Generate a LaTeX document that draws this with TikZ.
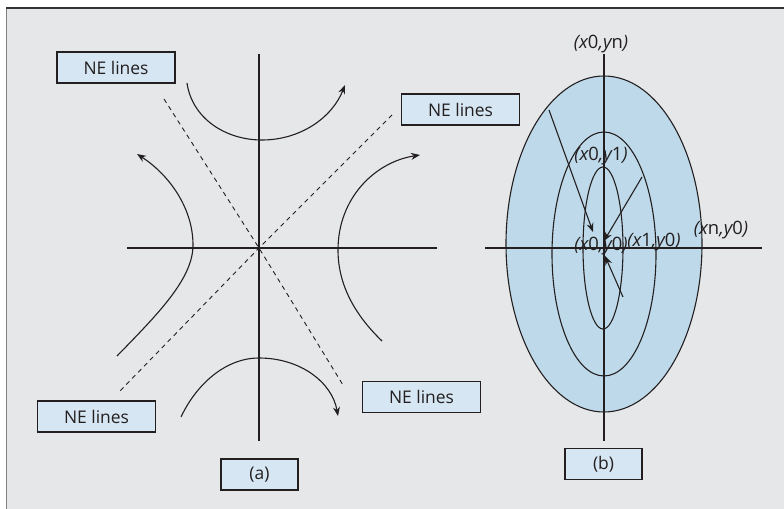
\documentclass[tikz,border=0pt]{standalone}
\usepackage{fontspec}
\setmainfont{Open Sans}
\usetikzlibrary{arrows.meta}
\definecolor{panel}{RGB}{230,231,233}
\definecolor{boxfill}{RGB}{214,230,242}
\definecolor{ringfill}{RGB}{190,218,234}
\definecolor{ink}{RGB}{35,31,32}
\newcommand\coordlabel[4]{{\itshape (#1}#2{\itshape ,#3}#4{\itshape )}}
\tikzset{
  ink line/.style={draw=ink, line width=1.1bp},
  ne guide/.style={draw=ink, line width=0.9bp, dash pattern=on 4.5bp off 4bp},
  flow/.style={ink line, -{Stealth[length=9bp,width=7bp]}},
  tag/.style={draw=ink, line width=1.1bp, fill=boxfill, minimum height=31bp,
    inner sep=0pt, font=\fontsize{17.5}{20}\selectfont, text=ink},
  netag/.style={tag, minimum width=118bp},
  captag/.style={tag, minimum width=77bp},
  pointlabel/.style={font=\fontsize{18.5}{20}\selectfont, text=ink, inner sep=0pt},
}
\begin{document}
\begin{tikzpicture}[x=1bp, y=-1bp]
  % canvas and panel
  \useasboundingbox (0,0) rectangle (784,509);
  \fill[white] (0,0) rectangle (784,509);
  \fill[panel] (7,8) rectangle (784,509);
  \draw[line width=1.7bp, draw=black!50] (6.5,8) -- (6.5,509);
  \draw[line width=2bp, draw=black!80] (5.6,8.3) -- (784,8.3);

  % ---------- (a) hyperbolic flow ----------
  \coordinate (oa) at (259,248);
  \coordinate (ayt) at (259,54);
  \coordinate (ayb) at (259,441);
  \coordinate (axl) at (127,248);
  \coordinate (axr) at (437,248);
  \draw[ink line] (ayt) -- (ayb);
  \draw[ink line] (axl) -- (axr);

  % separatrices
  \coordinate (d1a) at (164,99);
  \coordinate (d1b) at (343,385);
  \coordinate (d2a) at (392,115);
  \coordinate (d2b) at (119,392);
  \draw[ne guide] (d1a) -- (oa) -- (d1b);
  \draw[ne guide] (d2a) -- (oa) -- (d2b);

  % trajectories
  \draw[flow] (187,83) .. controls (192,118) and (225,140) .. (262,140)
              .. controls (300,140) and (332,118) .. (345,85);
  \draw[flow] (117,356) .. controls (160,312) and (193,278) .. (193,245)
              .. controls (193,207) and (168,174) .. (137,154);
  \draw[flow] (382,341) .. controls (355,315) and (338,285) .. (338,250)
              .. controls (338,198) and (375,162) .. (420,155);
  \draw[flow] (181,417) .. controls (196,385) and (225,358) .. (259,358)
              .. controls (300,358) and (332,382) .. (338,416);

  \node[netag] (ne1) at (116,67.5) {NE lines};
  \node[netag] (ne2) at (460.5,109.5) {NE lines};
  \node[netag] (ne3) at (96.5,416.5) {NE lines};
  \node[netag] (ne4) at (421.5,397) {NE lines};
  \node[captag] (capa) at (259.5,474.5) {(a)};

  % ---------- (b) nested level sets ----------
  \fill[ringfill] (604,244) ellipse [x radius=98, y radius=168];
  \draw[ink line] (604,244) ellipse [x radius=98, y radius=168];
  \draw[ink line] (604,254) ellipse [x radius=52, y radius=122];
  \draw[ink line] (603,248) ellipse [x radius=20, y radius=81];

  \coordinate (ob) at (604,248);
  \coordinate (byt) at (604,54);
  \coordinate (byb) at (604,441);
  \coordinate (bxl) at (485,248);
  \coordinate (bxr) at (762,248);
  \draw[ink line] (byt) -- (byb);
  \draw[ink line] (bxl) -- (bxr);

  \coordinate (s1) at (549,110);
  \coordinate (e1) at (593,232);
  \coordinate (s2) at (642,177);
  \coordinate (e2) at (604,241);
  \coordinate (s3) at (623,297);
  \coordinate (e3) at (605,256);
  \draw[flow] (s1) -- (e1);
  \draw[flow] (s2) -- (e2);
  \draw[flow] (s3) -- (e3);

  \node[pointlabel] (lyn) at (601,44) {\coordlabel{x}{0}{y}{n}};
  \node[pointlabel] (ly1) at (601,156) {\coordlabel{x}{0}{y}{1}};
  \node[pointlabel] (l00) at (601,246) {\coordlabel{x}{0}{y}{0}};
  \node[pointlabel] (l10) at (654,242) {\coordlabel{x}{1}{y}{0}};
  \node[pointlabel] (ln0) at (721,230) {\coordlabel{x}{n}{y}{0}};

  \node[captag] (capb) at (603.5,464) {(b)};
\end{tikzpicture}
\end{document}
